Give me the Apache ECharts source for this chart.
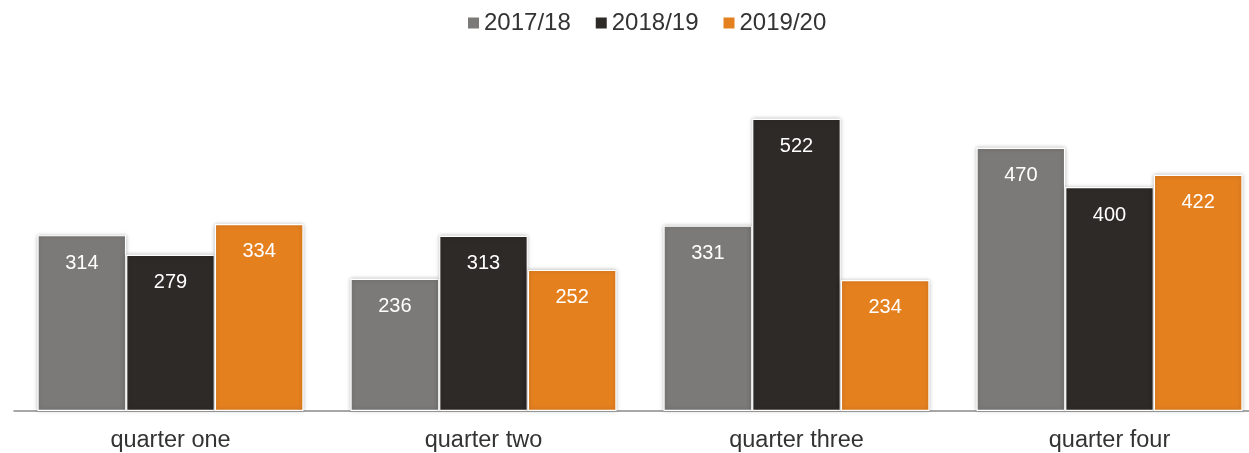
<!DOCTYPE html>
<html>
<head>
<meta charset="utf-8">
<script src="https://cdn.jsdelivr.net/npm/echarts@6/dist/echarts.min.js"></script>
<style>
  html, body { margin: 0; padding: 0; background: #fff; }
  #chart { width: 1249px; height: 453px; }
</style>
</head>
<body>
<div id="chart"></div>
<script>
// data
const categories = ['quarter one', 'quarter two', 'quarter three', 'quarter four']
const seriesNames = ['2017/18', '2018/19', '2019/20']
const values1718 = [314, 236, 331, 470]
const values1819 = [279, 313, 522, 400]
const values1920 = [334, 252, 234, 422]
const colors = ['#7b7a78', '#2e2a28', '#e5801f']

const chart = echarts.init(document.getElementById('chart'))

const makeSeries = (name, data, color) => ({
  name,
  type: 'bar',
  data,
  barGap: '0%',
  barCategoryGap: '15%',
  itemStyle: {
    color,
    borderColor: '#fff',
    borderWidth: 1.2,
    shadowBlur: 4,
    shadowColor: 'rgba(0,0,0,0.25)'
  },
  label: {
    show: true,
    position: 'insideTop',
    distance: 18,
    color: '#fff',
    fontSize: 20,
    fontFamily: 'Liberation Sans'
  }
})

chart.setOption({
  animation: false,
  color: colors,
  legend: {
    top: 6,
    left: 463,
    itemWidth: 11,
    itemHeight: 11,
    itemGap: 25,
    icon: 'rect',
    itemStyle: { borderWidth: 0, shadowBlur: 0 },
    textStyle: { fontSize: 24, color: '#333', fontFamily: 'Liberation Sans' },
    data: seriesNames
  },
  // the reference crops the last category slightly at the right edge
  grid: { left: 14, right: -17, top: 75, bottom: 42, outerBoundsMode: 'none', containLabel: false },
  xAxis: {
    type: 'category',
    data: categories,
    axisLine: { lineStyle: { color: '#8a8a8a', width: 1.5 } },
    axisTick: { show: false },
    axisLabel: { fontSize: 23.5, color: '#333', margin: 18, fontFamily: 'Liberation Sans' }
  },
  yAxis: {
    type: 'value',
    min: 0,
    max: 600,
    show: false,
    splitLine: { show: false }
  },
  series: [
    makeSeries(seriesNames[0], values1718, colors[0]),
    makeSeries(seriesNames[1], values1819, colors[1]),
    makeSeries(seriesNames[2], values1920, colors[2])
  ]
})

window.addEventListener('resize', () => chart.resize())
</script>
</body>
</html>
